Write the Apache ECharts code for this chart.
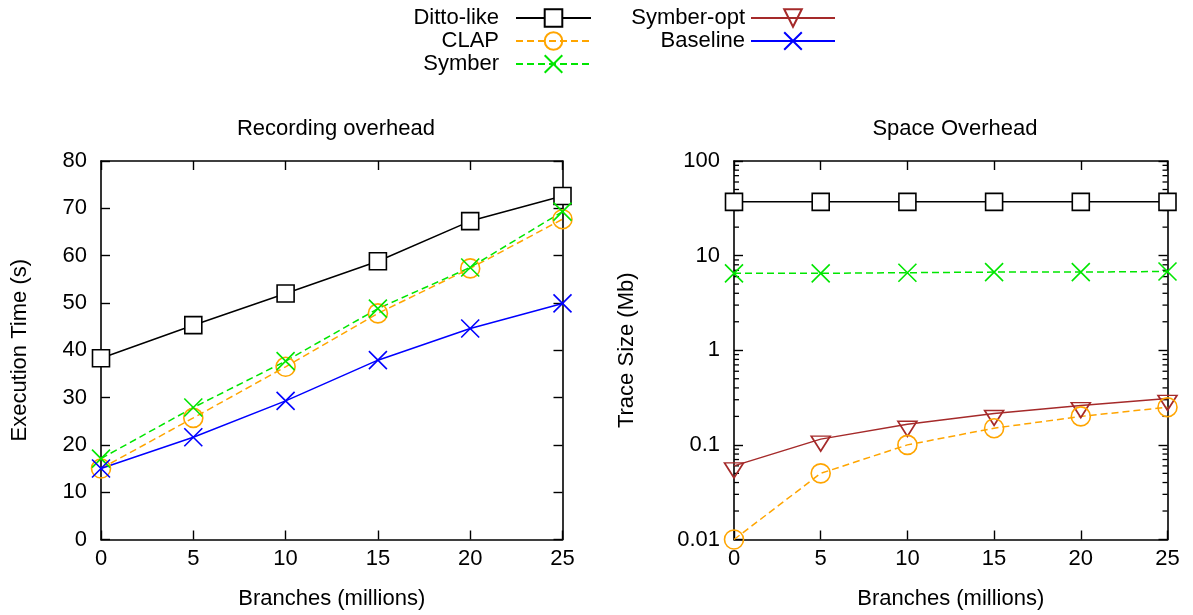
<!DOCTYPE html>
<html>
<head>
<meta charset="utf-8">
<script src="https://cdn.jsdelivr.net/npm/echarts@6/dist/echarts.min.js"></script>
<style>
  html, body { margin: 0; padding: 0; background: #fff; }
  #chart { width: 1193px; height: 615px; }
</style>
</head>
<body>
<div id="chart"></div>
<script>
// Branch counts on the x axis (millions)
const branches = [0, 5, 10, 15, 20, 25];

// Recording overhead: execution time (s)
const dittoTime    = [38.3, 45.3, 52.0, 58.8, 67.3, 72.6];
const clapTime     = [15.0, 25.7, 36.5, 47.8, 57.3, 67.7];
const symberTime   = [17.1, 27.9, 37.7, 48.8, 57.5, 69.3];
const baselineTime = [15.0, 21.6, 29.3, 37.9, 44.6, 49.9];

// Space overhead: trace size (Mb)
const dittoSize     = [37, 37, 37, 37, 37, 37];
const symberSize    = [6.5, 6.5, 6.6, 6.7, 6.7, 6.8];
const symberOptSize = [0.06, 0.115, 0.165, 0.215, 0.26, 0.31];
const clapSize      = [0.01, 0.05, 0.1, 0.15, 0.2, 0.25];

// Minor tick values for the logarithmic axis (2..9 in each decade)
const logMinorTicks = [];
for (let e = -2; e < 2; e++) {
  for (let m = 2; m <= 9; m++) logMinorTicks.push(m * Math.pow(10, e));
}

const FONT = 'Liberation Sans, Arial, sans-serif';
const FS = 22;
const pair = ys => branches.map((x, i) => [x, ys[i]]);

const CROSS = 'path://M0,0L10,10M10,0L0,10';
const INV_TRI = 'path://M0,0L10,0L5,8.3Z';

const styles = {
  'Ditto-like': {
    symbol: 'rect', symbolSize: 17,
    itemStyle: { color: '#fff', borderColor: '#000', borderWidth: 1.6 },
    lineStyle: { color: '#000', width: 1.5, type: 'solid' }
  },
  'CLAP': {
    symbol: 'circle', symbolSize: 19,
    itemStyle: { color: 'rgba(255,255,255,0)', borderColor: '#ffa500', borderWidth: 1.6 },
    lineStyle: { color: '#ffa500', width: 1.5, type: [7, 4] }
  },
  'Symber': {
    symbol: CROSS, symbolSize: 18,
    itemStyle: { color: 'rgba(0,0,0,0)', borderColor: '#00e600', borderWidth: 1.6 },
    lineStyle: { color: '#00e600', width: 1.5, type: [7, 4] }
  },
  'Symber-opt': {
    symbol: INV_TRI, symbolSize: [19, 15], symbolOffset: [0, 4.5],
    itemStyle: { color: 'rgba(255,255,255,0)', borderColor: '#a52a2a', borderWidth: 1.6 },
    lineStyle: { color: '#a52a2a', width: 1.5, type: 'solid' }
  },
  'Baseline': {
    symbol: CROSS, symbolSize: 18,
    itemStyle: { color: 'rgba(0,0,0,0)', borderColor: '#0000ff', borderWidth: 1.6 },
    lineStyle: { color: '#0000ff', width: 1.5, type: 'solid' }
  }
};

function lineSeries(name, xi, yi, values) {
  return Object.assign({
    type: 'line', name: name,
    xAxisIndex: xi, yAxisIndex: yi,
    data: pair(values),
    animation: false,
    z: 3
  }, styles[name]);
}

const axisLine = { show: true, onZero: false, lineStyle: { color: '#000', width: 1.6 } };
const tickIn = { show: true, inside: true, length: 9, lineStyle: { color: '#000', width: 1.4 } };
const labelStyle = { color: '#000', fontFamily: FONT, fontSize: FS };
const nameStyle = { color: '#000', fontFamily: FONT, fontSize: FS };

function xAxes(gridIndex) {
  return [
    {
      type: 'value', gridIndex, min: 0, max: 25, interval: 5, position: 'bottom',
      axisLine, axisTick: tickIn, splitLine: { show: false },
      axisLabel: Object.assign({ margin: 8 }, labelStyle),
      name: 'Branches (millions)', nameLocation: 'middle', nameGap: 48, nameTextStyle: nameStyle
    },
    {
      type: 'value', gridIndex, min: 0, max: 25, interval: 5, position: 'top',
      axisLine, axisTick: tickIn, splitLine: { show: false }, axisLabel: { show: false }
    }
  ];
}

const titleText = { color: '#000', fontFamily: FONT, fontSize: FS, fontWeight: 'normal' };

const option = {
  backgroundColor: '#fff',
  textStyle: { fontFamily: FONT },
  title: [
    { text: 'Recording overhead', left: 331, top: 113, textAlign: 'center', textStyle: titleText },
    { text: 'Space Overhead', left: 950, top: 113, textAlign: 'center', textStyle: titleText }
  ],
  legend: [
    {
      data: ['Ditto-like', 'CLAP', 'Symber'],
      orient: 'vertical', align: 'right', right: 596, top: 2,
      itemWidth: 75, itemHeight: 22, itemGap: 1,
      textStyle: { color: '#000', fontFamily: FONT, fontSize: FS, lineHeight: 22, padding: [0, 12, 0, 0] },
      selectedMode: false
    },
    {
      data: ['Symber-opt', 'Baseline'],
      orient: 'vertical', align: 'right', right: 352, top: 2,
      itemWidth: 84, itemHeight: 22, itemGap: 1,
      textStyle: { color: '#000', fontFamily: FONT, fontSize: FS, lineHeight: 22, padding: [0, 1, 0, 0] },
      selectedMode: false
    }
  ],
  grid: [
    { left: 101, top: 161, width: 461.5, height: 378.5 },
    { left: 734, top: 161, width: 433.5, height: 378.5 }
  ],
  xAxis: [].concat(xAxes(0), xAxes(1)),
  yAxis: [
    {
      type: 'value', gridIndex: 0, min: 0, max: 80, interval: 10, position: 'left',
      axisLine, axisTick: tickIn, splitLine: { show: false },
      axisLabel: Object.assign({ margin: 14 }, labelStyle),
      name: 'Execution Time (s)', nameLocation: 'middle', nameGap: 70, nameTextStyle: nameStyle
    },
    {
      type: 'value', gridIndex: 0, min: 0, max: 80, interval: 10, position: 'right',
      axisLine, axisTick: tickIn, splitLine: { show: false }, axisLabel: { show: false }
    },
    {
      type: 'log', logBase: 10, gridIndex: 1, min: 0.01, max: 100, position: 'left',
      axisLine, axisTick: tickIn, splitLine: { show: false },
      axisLabel: Object.assign({ margin: 14, formatter: v => String(Number(v.toPrecision(3))) }, labelStyle),
      name: 'Trace Size (Mb)', nameLocation: 'middle', nameGap: 96, nameTextStyle: nameStyle
    },
    {
      type: 'log', logBase: 10, gridIndex: 1, min: 0.01, max: 100, position: 'right',
      axisLine, axisTick: tickIn, splitLine: { show: false }, axisLabel: { show: false }
    }
  ],
  series: [
    lineSeries('Ditto-like', 0, 0, dittoTime),
    lineSeries('CLAP', 0, 0, clapTime),
    lineSeries('Symber', 0, 0, symberTime),
    lineSeries('Baseline', 0, 0, baselineTime),
    lineSeries('Ditto-like', 2, 2, dittoSize),
    lineSeries('Symber', 2, 2, symberSize),
    lineSeries('Symber-opt', 2, 2, symberOptSize),
    lineSeries('CLAP', 2, 2, clapSize),
    {
      // minor ticks of the log axis on both vertical borders
      type: 'custom', name: 'minor-ticks',
      xAxisIndex: 2, yAxisIndex: 2,
      data: logMinorTicks.map(v => [0, v]),
      silent: true, animation: false, clip: false, z: 1,
      renderItem: function (params, api) {
        const v = api.value(1);
        const l = api.coord([0, v]);
        const r = api.coord([25, v]);
        const st = { stroke: '#000', lineWidth: 1.3 };
        return {
          type: 'group',
          children: [
            { type: 'line', shape: { x1: l[0], y1: l[1], x2: l[0] + 5, y2: l[1] }, style: st },
            { type: 'line', shape: { x1: r[0], y1: r[1], x2: r[0] - 5, y2: r[1] }, style: st }
          ]
        };
      }
    }
  ]
};

const chart = echarts.init(document.getElementById('chart'), null, { renderer: 'canvas' });
chart.setOption(option);
</script>
</body>
</html>
